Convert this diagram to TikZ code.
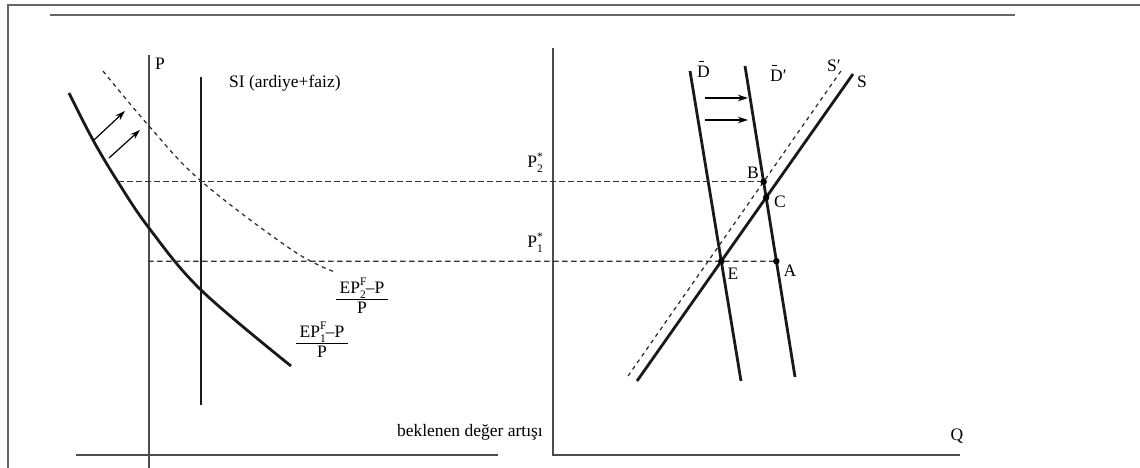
\documentclass[tikz,border=0pt]{standalone}
\usepackage{fontspec}
\setmainfont{Liberation Serif}
\usetikzlibrary{arrows.meta,calc}
\newcommand{\subsup}[2]{\rlap{\raisebox{0.42em}{\fontsize{11.5}{11.5}\selectfont #2}}\raisebox{-0.28em}{\fontsize{11.5}{11.5}\selectfont #1}}
\newcommand{\Dbar}{\leavevmode\rlap{\hspace{0.1em}\raisebox{0.88em}{\rule{0.3em}{0.06em}}}D}
\newcommand{\fracbox}[2]{\begin{tabular}{@{\hspace{4pt}}c@{\hspace{4pt}}}#1\\[0pt]\hline\rule{0pt}{13pt}#2\end{tabular}}
\begin{document}
\begin{tikzpicture}[x=1pt,y=-1pt,
  font=\fontsize{17.5}{20}\selectfont,
  frame/.style={draw=black!60, line width=2pt},
  axis/.style={draw=black!70, line width=1.5pt},
  heavy/.style={draw=black!90, line width=2.8pt},
  guide/.style={draw=black!80, line width=1.3pt, dash pattern=on 5.5pt off 3.5pt},
  shiftline/.style={draw=black!85, line width=1.2pt, dash pattern=on 4pt off 4pt},
  move/.style={draw=black, line width=1.2pt, -{Stealth[length=10pt,width=6.5pt]}},
  dot/.style={circle, fill=black, inner sep=0pt, minimum size=6.5pt},
  lbl/.style={inner sep=0pt}]
\useasboundingbox (0,0) rectangle (1140,468);
% frame
\coordinate (f1) at (1140,5);
\coordinate (f2) at (8,5);
\coordinate (f3) at (8,468);
\draw[frame] (f1) -- (f2) -- (f3);
\coordinate (t1) at (50,15);
\coordinate (t2) at (1015,15);
\draw[frame] (t1) -- (t2);
% left axes
\coordinate (pa1) at (149,55);
\coordinate (pa2) at (149,468);
\coordinate (qa1) at (76,455);
\coordinate (qa2) at (498,455);
\draw[axis] (pa1) -- (pa2);
\draw[axis] (qa1) -- (qa2);
% right axes
\coordinate (ra1) at (553,48);
\coordinate (ra2) at (553,455);
\coordinate (ra3) at (960,455);
\draw[axis] (ra1) -- (ra2) -- (ra3);
% SI line
\coordinate (si1) at (201,77);
\coordinate (si2) at (201,405);
\draw[heavy] (si1) -- (si2);
% curves
\draw[heavy] plot[smooth, tension=0.6] coordinates {(69,93) (93,140) (118,182) (149,228) (201,290) (291,366)};
\draw[shiftline] plot[smooth, tension=0.6] coordinates {(103,71) (149,126) (201,181) (292,250) (335,272)};
% shift arrows left
\coordinate (a1s) at (94,140);
\coordinate (a1e) at (125,111);
\coordinate (a2s) at (109,158);
\coordinate (a2e) at (140,130);
\draw[move] (a1s) -- (a1e);
\draw[move] (a2s) -- (a2e);
% right panel lines
\coordinate (d1a) at (690,71);
\coordinate (d1b) at (741,381);
\coordinate (d2a) at (745,66);
\coordinate (d2b) at (795,377);
\coordinate (sp1) at (628,376);
\coordinate (sp2) at (843,68);
\coordinate (s1) at (637,381);
\coordinate (s2) at (853,74);
\draw[heavy] (d1a) -- (d1b);
\draw[heavy] (d2a) -- (d2b);
\draw[shiftline] (sp1) -- (sp2);
\draw[heavy] (s1) -- (s2);
\coordinate (B) at (intersection of d2a--d2b and sp1--sp2);
\coordinate (C) at (intersection of d2a--d2b and s1--s2);
\coordinate (E) at (intersection of d1a--d1b and s1--s2);
\coordinate (Eh) at ($(E)+(100,0)$);
\coordinate (A) at (intersection of d2a--d2b and E--Eh);
% guide lines
\coordinate (g2) at (118,0);
\coordinate (g1) at (148,0);
\draw[guide] (g2 |- B) -- (B);
\draw[guide] (g1 |- E) -- (A);
% right arrows
\coordinate (b1s) at (705,98);
\coordinate (b1e) at (748,98);
\coordinate (b2s) at (705,120);
\coordinate (b2e) at (748,120);
\draw[move] (b1s) -- (b1e);
\draw[move] (b2s) -- (b2e);
% points
\node[dot] (nB) at (B) {};
\node[dot] (nC) at (C) {};
\node[dot] (nE) at (E) {};
\node[dot] (nA) at (A) {};
% labels
\node[lbl, anchor=west] (Plbl) at (155,64) {P};
\node[lbl, anchor=west] (SIlbl) at (229,83) {SI (ardiye+faiz)};
\node[lbl, anchor=east] (P2lbl) at (543,163) {P\subsup{2}{*}};
\node[lbl, anchor=east] (P1lbl) at (543,243) {P\subsup{1}{*}};
\node[lbl] (fr2) at (362,299) {\fracbox{EP\subsup{2}{F}–P}{P}};
\node[lbl] (fr1) at (322,343) {\fracbox{EP\subsup{1}{F}–P}{P}};
\node[lbl, anchor=east] (xlbl) at (543,432) {beklenen değer artışı};
\node[lbl] (Qlbl) at (957,436) {Q};
\node[lbl, anchor=south west] (D1lbl) at (697,78) {\Dbar};
\node[lbl, anchor=south west] (D2lbl) at (770,82) {\Dbar′};
\node[lbl, anchor=south west] (Splbl) at (827,72) {S′};
\node[lbl, anchor=south west] (Slbl) at (857,88) {S};
\node[lbl] (Blbl) at (753,173) {B};
\node[lbl] (Clbl) at (780,202) {C};
\node[lbl] (Elbl) at (733,274) {E};
\node[lbl] (Albl) at (790,271) {A};
\end{tikzpicture}
\end{document}
